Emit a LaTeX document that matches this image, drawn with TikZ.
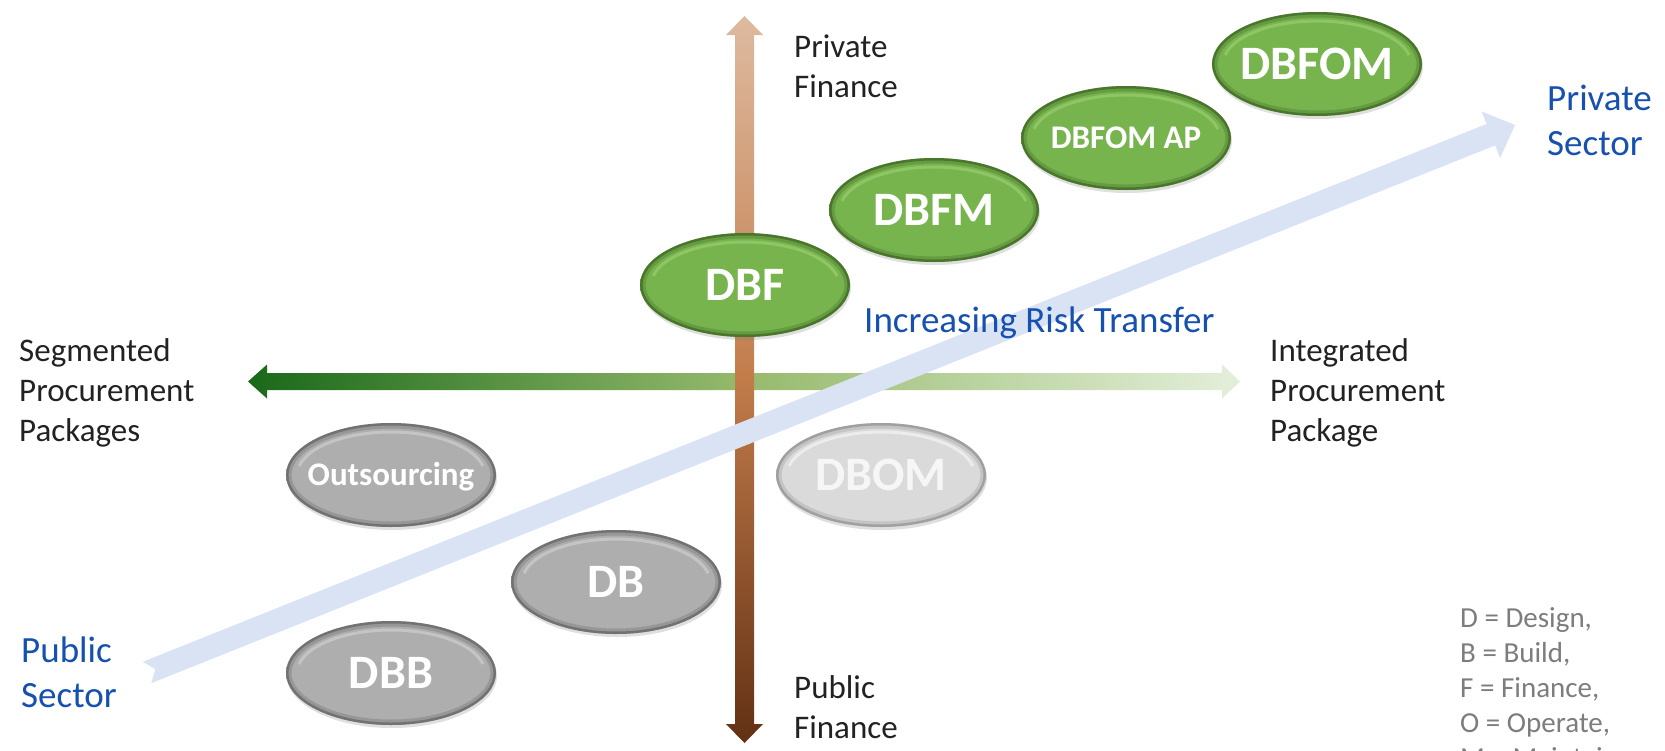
\documentclass[tikz,border=0pt]{standalone}
\usepackage{fontspec}
\setmainfont{Carlito}
\usetikzlibrary{calc,shapes.geometric,shadows}

% palette
\definecolor{gFill}{RGB}{120,180,78}
\definecolor{gMid}{RGB}{100,156,60}
\definecolor{gRim}{RGB}{60,100,32}
\definecolor{gDeep}{RGB}{42,72,20}
\definecolor{gGloss}{RGB}{158,210,118}
\definecolor{kFill}{RGB}{174,174,174}
\definecolor{kMid}{RGB}{148,148,148}
\definecolor{kRim}{RGB}{92,92,92}
\definecolor{kDeep}{RGB}{70,70,70}
\definecolor{kGloss}{RGB}{212,212,212}
\definecolor{lFill}{RGB}{218,218,218}
\definecolor{lMid}{RGB}{198,198,198}
\definecolor{lRim}{RGB}{145,145,145}
\definecolor{lDeep}{RGB}{118,118,118}
\definecolor{lGloss}{RGB}{248,248,248}
\definecolor{lText}{RGB}{246,246,246}
\definecolor{brTop}{RGB}{222,186,160}
\definecolor{brMid}{RGB}{194,124,74}
\definecolor{brBot}{RGB}{98,48,20}
\definecolor{grL}{RGB}{25,105,25}
\definecolor{grM}{RGB}{150,186,108}
\definecolor{grR}{RGB}{228,239,218}
\definecolor{riskBlue}{RGB}{218,227,243}
\definecolor{labelBlue}{RGB}{22,80,176}
\definecolor{labelDark}{RGB}{34,34,34}
\definecolor{legendGray}{RGB}{125,125,125}

% bevelled oval fills: flat centre, rim darker towards the bottom
\pgfdeclareradialshading{greenbevel}{\pgfpoint{0bp}{4bp}}{color(0bp)=(gFill);color(33bp)=(gFill);color(41bp)=(gMid);color(47bp)=(gRim);color(53bp)=(gDeep)}
\pgfdeclareradialshading{graybevel}{\pgfpoint{0bp}{4bp}}{color(0bp)=(kFill);color(33bp)=(kFill);color(41bp)=(kMid);color(47bp)=(kRim);color(53bp)=(kDeep)}
\pgfdeclareradialshading{lightbevel}{\pgfpoint{0bp}{4bp}}{color(0bp)=(lFill);color(33bp)=(lFill);color(41bp)=(lMid);color(47bp)=(lRim);color(53bp)=(lDeep)}

\newcommand{\ovaltext}[1]{\makebox[0pt][c]{#1}}

\tikzset{
  oval/.style={ellipse, minimum width=210pt, minimum height=104pt, inner sep=0pt,
    text=white, text depth=0pt, shade,
    drop shadow={opacity=0.25, shadow xshift=1pt, shadow yshift=-3pt}},
  % inner bevel: soft dark rim plus a light streak under the top edge
  gloss/.style 2 args={path picture={
    \draw[line width=11pt, #2, opacity=0.22]
      (path picture bounding box.center) ellipse[x radius=105, y radius=52];
    \draw[line width=5pt, #2, opacity=0.45]
      (path picture bounding box.center) ellipse[x radius=105, y radius=52];
    \draw[line width=3pt, #1, opacity=0.6]
      ([shift={(168:94 and 43)}]path picture bounding box.center)
      arc[start angle=168, end angle=12, x radius=94, y radius=43];}},
  greenoval/.style={oval, shading=greenbevel, gloss={gGloss}{gDeep}},
  grayoval/.style={oval, shading=graybevel, gloss={kGloss}{kDeep}},
  lightoval/.style={oval, shading=lightbevel, gloss={lGloss}{lDeep}, text=lText},
  bigtext/.style={font=\fontsize{48}{48}\selectfont\bfseries, text height=31pt},
  smalltext/.style={font=\fontsize{33}{33}\selectfont\bfseries, text height=21pt},
  axislabel/.style={anchor=base west, align=left, inner sep=0pt, text=labelDark,
    font=\fontsize{33}{40}\selectfont},
  sectorlabel/.style={anchor=base west, align=left, inner sep=0pt, text=labelBlue,
    font=\fontsize{37}{45}\selectfont},
  legendtext/.style={anchor=base west, align=left, inner sep=0pt, text=legendGray,
    font=\fontsize{29}{35}\selectfont},
}

\begin{document}
\begin{tikzpicture}[x=1pt,y=1pt]
\useasboundingbox (0,0) rectangle (1665,-750);
\fill[white] (0,0) rectangle (1665,-750);
\clip (0,0) rectangle (1665,-750);

% horizontal axis: segmented <-> integrated procurement
\shade[left color=grL, right color=grR, middle color=grM]
  (248,-381.5) -- (267,-364.5) -- (267,-373) -- (1222,-373) -- (1222,-364.5)
  -- (1240,-381.5) -- (1222,-398.5) -- (1222,-390) -- (267,-390) -- (267,-398.5) -- cycle;

% vertical axis: private finance <-> public finance
\shade[top color=brTop, bottom color=brBot, middle color=brMid]
  (735,-35) -- (726,-35) -- (744.5,-16) -- (763,-35) -- (754,-35) -- (754,-724)
  -- (763,-724) -- (744.5,-743) -- (726,-724) -- (735,-724) -- cycle;

% diagonal arrow: increasing risk transfer
\coordinate (rtTail) at (147,-672.5);
\coordinate (rtTip) at (1515,-125);
\coordinate (rtHead) at ($(rtTip)!26pt!(rtTail)$);
\fill[riskBlue]
  ($(rtTail)!11.5pt!90:(rtTip)$) -- ($(rtHead)!11.5pt!90:(rtTip)$)
  -- ($(rtHead)!25pt!90:(rtTip)$) -- (rtTip) -- ($(rtHead)!25pt!-90:(rtTip)$)
  -- ($(rtHead)!11.5pt!-90:(rtTip)$) -- ($(rtTail)!11.5pt!-90:(rtTip)$)
  -- ($(rtTail)!9pt!(rtTip)$) -- cycle;

% delivery models
\node[greenoval, bigtext]   (dbf)     at (745,-285)  {\ovaltext{DBF}};
\node[greenoval, bigtext]   (dbfm)    at (934,-210)  {\ovaltext{DBFM}};
\node[greenoval, smalltext] (dbfomap) at (1126,-138) {\ovaltext{DBFOM AP}};
\node[greenoval, bigtext]   (dbfom)   at (1317,-64)  {\ovaltext{DBFOM}};
\node[grayoval, smalltext]  (outs)    at (391,-475)  {\ovaltext{Outsourcing}};
\node[lightoval, bigtext]   (dbom)    at (881,-475)  {\ovaltext{DBOM}};
\node[grayoval, bigtext]    (db)      at (616,-582)  {\ovaltext{DB}};
\node[grayoval, bigtext]    (dbb)     at (391,-673)  {\ovaltext{DBB}};

% axis labels (anchored on the baseline of the last line)
\node[axislabel] (privfin) at (794,-97)  {Private\\Finance};
\node[axislabel] (pubfin)  at (794,-738) {Public\\Finance};
\node[axislabel] (segm)    at (19,-441)  {Segmented\\Procurement\\Packages};
\node[axislabel] (integ)   at (1270,-441) {Integrated\\Procurement\\Package};

% sector labels
\node[sectorlabel] (privsec) at (1547,-155) {Private\\Sector};
\node[sectorlabel] (pubsec)  at (21,-707)   {Public\\Sector};
\node[sectorlabel] (irt)     at (864,-332)  {Increasing Risk Transfer};

% key
\node[legendtext] (key) at (1460,-767)
  {D = Design,\\B = Build,\\F = Finance,\\O = Operate,\\M = Maintain};
\end{tikzpicture}
\end{document}
